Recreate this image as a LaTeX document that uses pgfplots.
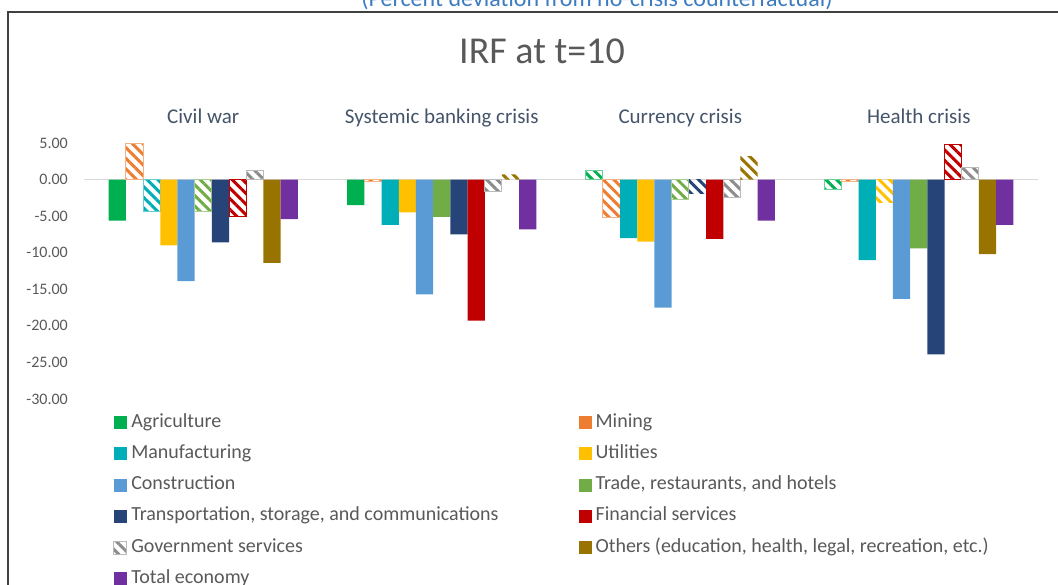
\documentclass[border=0pt]{standalone}
\usepackage{pgfplots}
\pgfplotsset{compat=1.18}
\usepackage{fontspec}
\setmainfont{Carlito}
\usetikzlibrary{patterns.meta}

\definecolor{agri}{HTML}{00B050}
\definecolor{mining}{HTML}{ED7D31}
\definecolor{manuf}{HTML}{00AEB8}
\definecolor{util}{HTML}{FFC000}
\definecolor{constr}{HTML}{5B9BD5}
\definecolor{trade}{HTML}{70AD47}
\definecolor{transp}{HTML}{264478}
\definecolor{fin}{HTML}{C00000}
\definecolor{gov}{HTML}{8C8C8C}
\definecolor{others}{HTML}{997300}
\definecolor{total}{HTML}{7030A0}
\definecolor{txtgray}{HTML}{595959}
\definecolor{catblue}{HTML}{44546A}
\definecolor{subblue}{HTML}{3D7CC0}
\definecolor{framec}{HTML}{404040}
\definecolor{zerogray}{HTML}{D9D9D9}

% solid bar / hatched bar, args: colour, shift
\pgfplotsset{
  sbar/.style 2 args={ybar, bar width=17.2pt, bar shift=#2, fill=#1, draw=none,
    legend image code/.code={\path[##1] (0pt,-6.5pt) rectangle (13pt,6.5pt);}},
  hbar/.style 2 args={ybar, bar width=17.2pt, bar shift=#2, draw=#1!60, line width=1pt,
    pattern={Lines[angle=-45,distance=7.5pt,line width=3pt]}, pattern color=#1,
    legend image code/.code={\path[##1] (0pt,-6.5pt) rectangle (13pt,6.5pt);}},
}

\begin{document}
\begin{tikzpicture}
\useasboundingbox (0,0) rectangle (1058pt,584pt);
\clip (0,0) rectangle (1058pt,584pt);
\draw[framec, line width=1.3pt] (8pt,-2pt) -- (8pt,572pt) -- (1062pt,572pt);
\node[anchor=base, font=\fontsize{24}{28}\selectfont, text=subblue] at (597pt,577pt)
  {(Percent deviation from no-crisis counterfactual)};
\node[anchor=base, font=\fontsize{38}{44}\selectfont, text=txtgray] at (542pt,520pt) {IRF at t=10};

\begin{axis}[
  at={(84pt,185pt)}, anchor=south west,
  width=954pt, height=256pt, scale only axis,
  xmin=-0.5, xmax=3.5, ymin=-30, ymax=5,
  clip=false,
  axis line style={draw=none}, tick style={draw=none},
  xtick={0,1,2,3},
  xticklabels={Civil war, Systemic banking crisis, Currency crisis, Health crisis},
  xticklabel pos=right,
  xticklabel style={anchor=base, yshift=19.5pt, inner sep=0pt,
    font=\fontsize{21}{25}\selectfont, text=catblue},
  ytick={-30,-25,...,5},
  yticklabel style={anchor=east, xshift=-16pt, inner sep=0pt,
    font=\fontsize{16}{19}\selectfont, text=txtgray,
    /pgf/number format/fixed, /pgf/number format/fixed zerofill,
    /pgf/number format/precision=2, /pgf/number format/assume math mode=true},
  extra y ticks={0}, extra y tick labels={},
  extra y tick style={grid=major, major grid style={draw=zerogray, line width=1.2pt}},
  legend columns=2,
  legend cell align=left,
  legend style={at={(0.0305,-0.055)}, anchor=north west, draw=none, fill=none,
    inner sep=0pt, row sep=12.2pt,
    font=\fontsize{20}{24}\selectfont, text=txtgray,
    nodes={inner xsep=4pt, inner ysep=0pt, text height=14pt, text depth=5pt},
    /tikz/every even column/.append style={column sep=76pt}},
]

\addplot[sbar={agri}{-86pt}] coordinates {(0,-5.6) (1,-3.5)};
\addlegendentry{Agriculture}
\addplot[hbar={agri}{-86pt}, forget plot] coordinates {(2,1.2) (3,-1.3)};

\addlegendimage{sbar={mining}{0pt}}
\addlegendentry{Mining}
\addplot[hbar={mining}{-68.8pt}, forget plot] coordinates {(0,5.0) (1,-0.2) (2,-5.2) (3,-0.2)};

\addplot[sbar={manuf}{-51.6pt}] coordinates {(1,-6.2) (2,-8.0) (3,-11.0)};
\addlegendentry{Manufacturing}
\addplot[hbar={manuf}{-51.6pt}, forget plot] coordinates {(0,-4.3)};

\addplot[sbar={util}{-34.4pt}] coordinates {(0,-9.0) (1,-4.5) (2,-8.5)};
\addlegendentry{Utilities}
\addplot[hbar={util}{-34.4pt}, draw=none, forget plot] coordinates {(3,-3.1)};

\addplot[sbar={constr}{-17.2pt}] coordinates {(0,-13.9) (1,-15.7) (2,-17.5) (3,-16.3)};
\addlegendentry{Construction}

\addplot[sbar={trade}{0pt}] coordinates {(1,-5.1) (3,-9.4)};
\addlegendentry{Trade, restaurants, and hotels}
\addplot[hbar={trade}{0pt}, forget plot] coordinates {(0,-4.4) (2,-2.7)};

\addplot[sbar={transp}{17.2pt}] coordinates {(0,-8.6) (1,-7.5) (3,-23.9)};
\addlegendentry{Transportation, storage, and communications}
\addplot[hbar={transp}{17.2pt}, draw=none, forget plot] coordinates {(2,-1.9)};

\addplot[sbar={fin}{34.4pt}] coordinates {(1,-19.3) (2,-8.1)};
\addlegendentry{Financial services}
\addplot[hbar={fin}{34.4pt}, draw=fin, forget plot] coordinates {(0,-5.1) (3,4.8)};

\addplot[hbar={gov}{51.6pt}] coordinates {(0,1.3) (1,-1.6) (2,-2.5) (3,1.7)};
\addlegendentry{Government services}

\addplot[sbar={others}{68.8pt}] coordinates {(0,-11.4) (3,-10.2)};
\addlegendentry{Others (education, health, legal, recreation, etc.)}
\addplot[hbar={others}{68.8pt}, draw=none, forget plot] coordinates {(1,0.7) (2,3.2)};

\addplot[sbar={total}{86pt}] coordinates {(0,-5.4) (1,-6.8) (2,-5.6) (3,-6.2)};
\addlegendentry{Total economy}

\end{axis}
\end{tikzpicture}
\end{document}
